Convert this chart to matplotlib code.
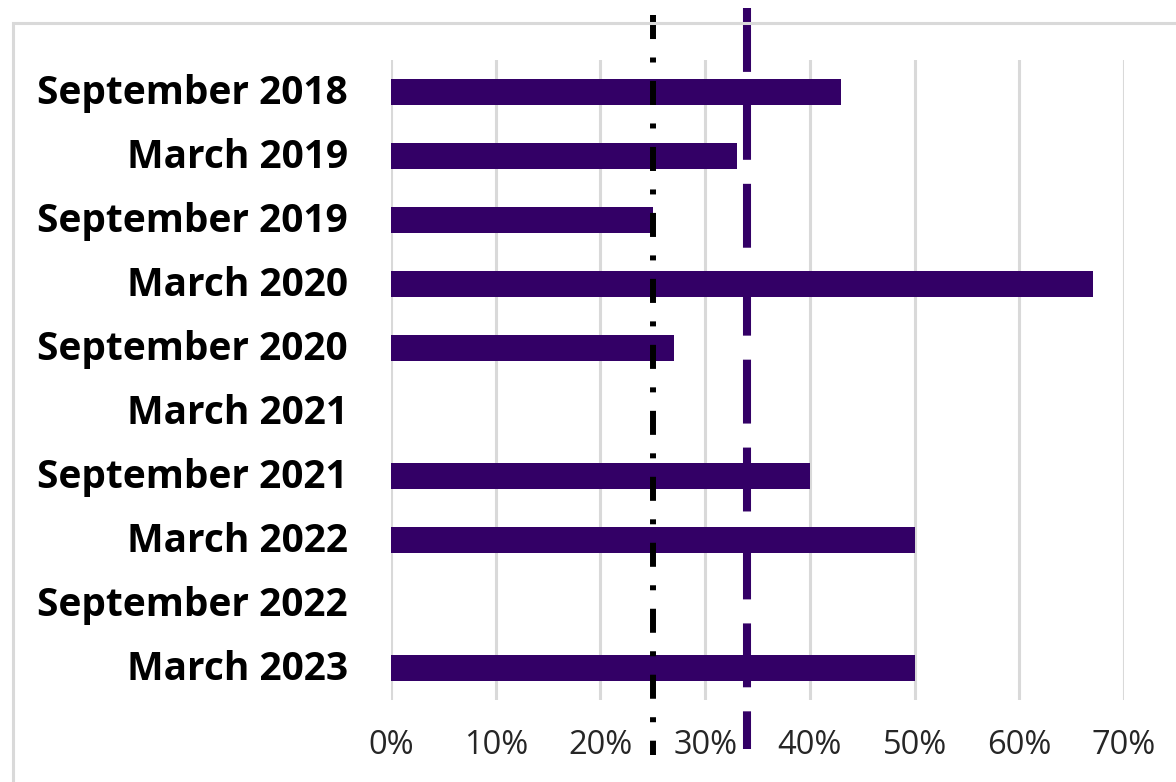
import matplotlib
matplotlib.use("Agg")
import matplotlib.pyplot as plt
import matplotlib.transforms as mtransforms
from matplotlib.patches import Rectangle
from matplotlib.ticker import FuncFormatter

# survey rounds, top to bottom
periods = [
    "September 2018",
    "March 2019",
    "September 2019",
    "March 2020",
    "September 2020",
    "March 2021",
    "September 2021",
    "March 2022",
    "September 2022",
    "March 2023",
]
# share in percent (None = no data for that round)
shares = [43, 33, 25, 67, 27, None, 40, 50, None, 50]
# reference lines
benchmark_a = 25  # black dash-dot
benchmark_b = 34  # purple dashed
xticks = [0, 10, 20, 30, 40, 50, 60, 70]

purple = "#330066"
grey = "#d9d9d9"

plt.rcParams["font.family"] = ["Open Sans", "DejaVu Sans"]
plt.rcParams["lines.scale_dashes"] = False

W, H, DPI = 1176, 782, 100
fig = plt.figure(figsize=(W / DPI, H / DPI), dpi=DPI)

# light grey frame around the chart (runs off the right/bottom edge)
fig.patches.append(
    Rectangle((13 / W, -0.1), 1.2, (H - 23) / H + 0.1, transform=fig.transFigure,
              fill=False, edgecolor=grey, linewidth=2.2)
)

ax = fig.add_axes([391 / W, 82 / H, (1124 - 391) / W, 640 / H])

ypos = list(range(len(periods)))
for y, v in zip(ypos, shares):
    if v is None:
        continue
    ax.barh(y, v, height=0.4, color=purple, zorder=2)

ax.set_ylim(len(periods) - 0.5, -0.5)
ax.set_xlim(0, 70)
ax.set_yticks(ypos)
ax.set_yticklabels(periods, fontsize=28, fontweight="bold", color="black")
ax.set_xticks(xticks)
ax.xaxis.set_major_formatter(FuncFormatter(lambda v, p: f"{v:.0f}%"))
ax.tick_params(axis="x", labelsize=23.5, colors="#262626", length=0, pad=21)
ax.tick_params(axis="y", length=0, pad=31)
ax.grid(axis="x", color=grey, linewidth=2.2, zorder=0)
ax.set_axisbelow(True)
for s in ax.spines.values():
    s.set_visible(False)

# nudge category labels up a few pixels
shift = mtransforms.ScaledTranslation(0, 0.03, fig.dpi_scale_trans)
for lab in ax.get_yticklabels():
    lab.set_transform(lab.get_transform() + shift)

# benchmark lines, drawn top-down and past the plot area like in the original
xt = ax.get_xaxis_transform()
ax.plot([benchmark_a, benchmark_a], [1.07, -0.086], transform=xt, color="black",
        linewidth=4.3, linestyle=(0, (17.3, 13.3, 3.6, 13.3)), clip_on=False,
        zorder=3)
ax.plot([benchmark_b, benchmark_b], [1.081, -0.0766], transform=xt, color=purple,
        linewidth=5.8, linestyle=(0, (46, 17.3)), clip_on=False, zorder=3)

fig.savefig("out.png", dpi=DPI)
